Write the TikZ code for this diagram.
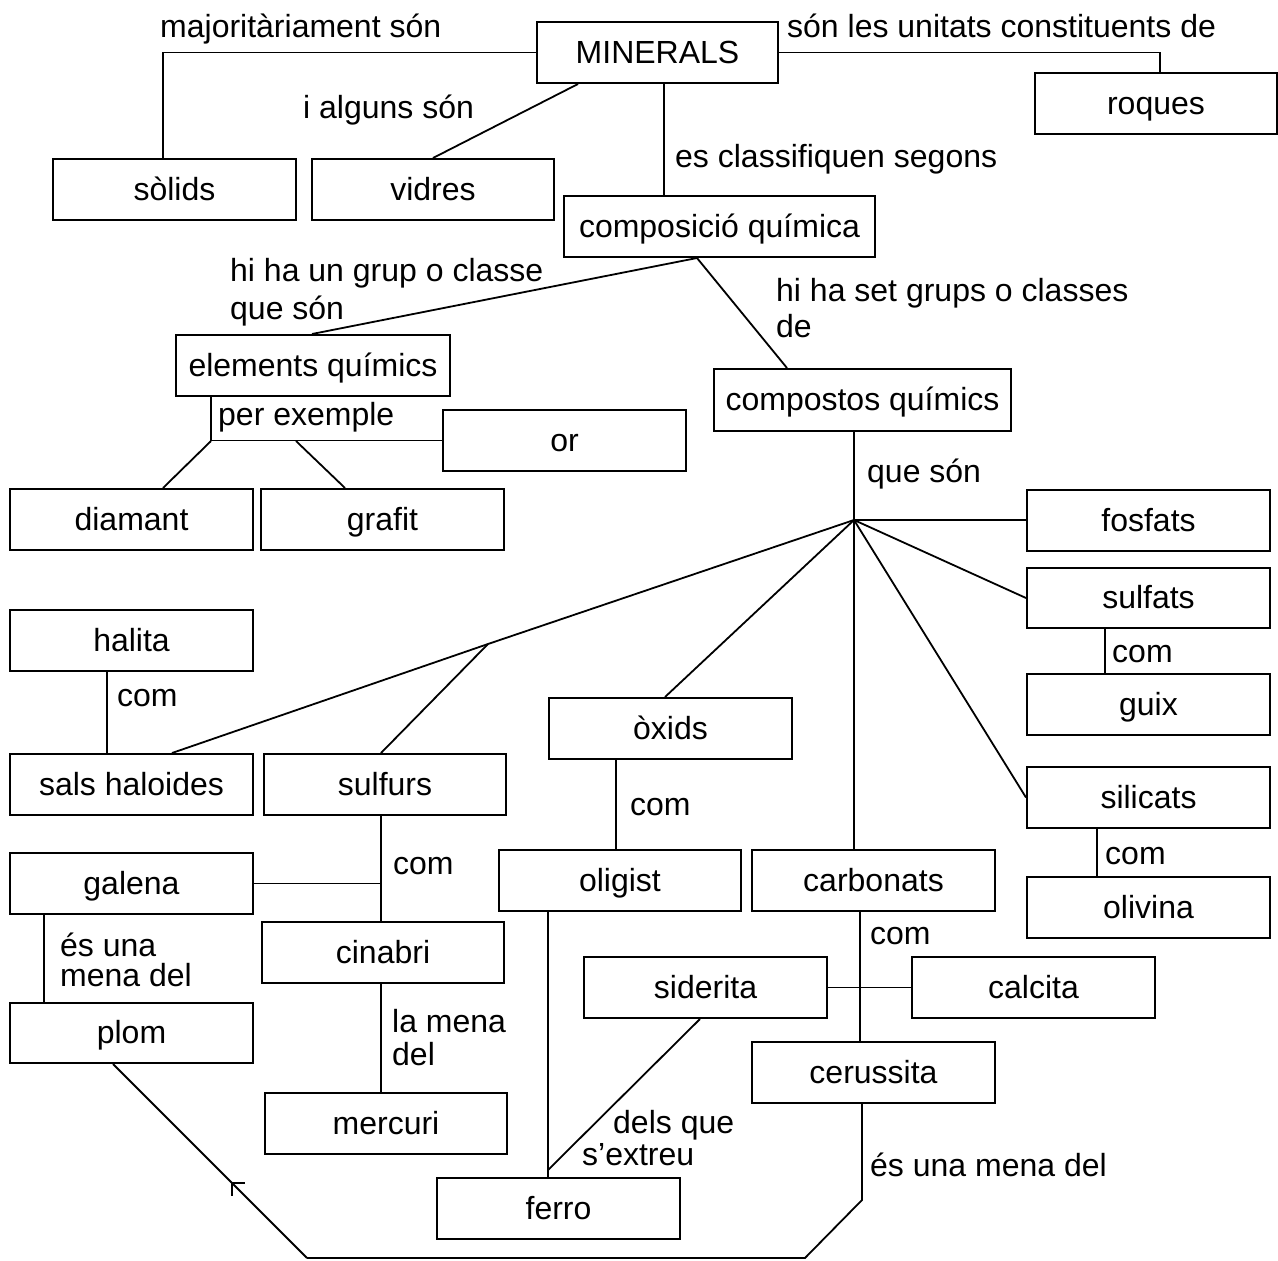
\documentclass[tikz,border=0pt]{standalone}
\usepackage{fontspec}
\setmainfont{Liberation Sans}
\usetikzlibrary{arrows.meta,decorations.markings,calc}
\begin{document}
\begin{tikzpicture}[x=1pt,y=-1pt,
  box/.style={draw, line width=2pt, minimum width=243pt, minimum height=61pt, inner sep=0pt,
    text height=25pt, text depth=4pt, font=\fontsize{32}{38}\selectfont},
  lbl/.style={inner sep=0pt, anchor=base west, font=\fontsize{32}{38}\selectfont},
  conn/.style={line width=1.8pt}]
\useasboundingbox[fill=white] (0,0) rectangle (1278,1261);

% boxes
\node[box, minimum width=241pt] (minerals) at (657.5,52.5) {MINERALS};
\node[box, minimum width=242pt] (roques) at (1156,103.5) {roques};
\node[box] (solids) at (174.5,189.5) {sòlids};
\node[box, minimum width=242pt] (vidres) at (433,189.5) {vidres};
\node[box, minimum width=311pt] (comp) at (719.5,226.5) {composició química};
\node[box, minimum width=274pt] (elements) at (313,365.5) {elements químics};
\node[box] (or) at (564.5,440.5) {or};
\node[box] (diamant) at (131.5,519.5) {diamant};
\node[box] (grafit) at (382.5,519.5) {grafit};
\node[box, minimum width=297pt, minimum height=62pt] (compostos) at (862.5,400) {compostos químics};
\node[box] (fosfats) at (1148.5,520.5) {fosfats};
\node[box, minimum height=60pt] (sulfats) at (1148.5,598) {sulfats};
\node[box] (guix) at (1148.5,704.5) {guix};
\node[box] (silicats) at (1148.5,797.5) {silicats};
\node[box] (olivina) at (1148.5,907.5) {olivina};
\node[box] (halita) at (131.5,640.5) {halita};
\node[box] (sals) at (131.5,784.5) {sals haloides};
\node[box, minimum width=242pt] (sulfurs) at (385,784.5) {sulfurs};
\node[box] (oxids) at (670.5,728.5) {òxids};
\node[box, minimum width=242pt] (oligist) at (620,880.5) {oligist};
\node[box] (carbonats) at (873.5,880.5) {carbonats};
\node[box] (galena) at (131.5,883.5) {galena};
\node[box, minimum width=242pt] (cinabri) at (383,952.5) {cinabri};
\node[box] (siderita) at (705.5,987.5) {siderita};
\node[box] (calcita) at (1033.5,987.5) {calcita};
\node[box, minimum height=60pt] (plom) at (131.5,1033) {plom};
\node[box] (cerussita) at (873.5,1072.5) {cerussita};
\node[box, minimum width=242pt] (mercuri) at (386,1123.5) {mercuri};
\node[box] (ferro) at (558.5,1208.5) {ferro};

% junctions
\coordinate (cb) at ([xshift=-22.5pt]comp.south);
\coordinate (pe) at (211,441);
\coordinate (pg) at (296,441);
\coordinate (hub) at (854,520);
\coordinate (jn) at (488,644);
\coordinate (sx) at ([xshift=-4pt]sulfurs.south);
\coordinate (b1) at (862,1200);
\coordinate (b2) at (805,1258);
\coordinate (b3) at (307,1258);

% connectors
\draw[conn] (minerals.west) -| ([xshift=-11.5pt]solids.north);
\draw[conn] (minerals.east) -| ([xshift=4pt]roques.north);
\draw[conn] ([xshift=-79.5pt]minerals.south) -- (vidres.north);
\draw[conn] ([xshift=6.5pt]minerals.south) -- ([xshift=6.5pt]minerals.south |- comp.north);
\draw[conn] (cb) -- ([xshift=-1pt]elements.north);
\draw[conn] (cb) -- ([xshift=-75.5pt]compostos.north);
\draw[conn] ([xshift=-102pt]elements.south) |- (or.west);
\draw[conn] (pe) -- ([xshift=31.5pt]diamant.north);
\draw[conn] (pg) -- ([xshift=-37.5pt]grafit.north);
\draw[conn] ([xshift=-8.5pt]compostos.south) -- (hub);
\draw[conn] (hub) -- (hub -| fosfats.west);
\draw[conn] (hub) -- (sulfats.west);
\draw[conn] (hub) -- (silicats.west);
\draw[conn] (hub) -- (hub |- carbonats.north);
\draw[conn] (hub) -- ([xshift=-5.5pt]oxids.north);
\draw[conn] (hub) -- (jn);
\draw[conn] (jn) -- ([xshift=40.5pt]sals.north);
\draw[conn] (jn) -- ([xshift=-4pt]sulfurs.north);
\draw[conn] ([xshift=-24.5pt]halita.south) -- ([xshift=-24.5pt]sals.north);
\draw[conn] ([xshift=-43.5pt]sulfats.south) -- ([xshift=-43.5pt]guix.north);
\draw[conn] ([xshift=-51.5pt]silicats.south) -- ([xshift=-51.5pt]olivina.north);
\draw[conn] ([xshift=-54.5pt]oxids.south) -- ([xshift=-54.5pt]oxids.south |- oligist.north);
\draw[conn] (sx) -- (sx |- cinabri.north);
\draw[conn] (galena.east) -- (galena.east -| sx);
\draw[conn] ([xshift=-87.5pt]galena.south) -- ([xshift=-87.5pt]plom.north);
\draw[conn] ([xshift=-2pt]cinabri.south) -- ([xshift=-2pt]cinabri.south |- mercuri.north);
\draw[conn] ([xshift=-72pt]oligist.south) -- ([xshift=-72pt]oligist.south |- ferro.north);
\draw[conn] ([xshift=-5.5pt]siderita.south) -- ([xshift=-10.5pt,yshift=7pt]ferro.north);
\draw[conn] ([xshift=-13.5pt]carbonats.south) -- ([xshift=-13.5pt]cerussita.north);
\draw[conn] (siderita.east) -- (calcita.west);
\draw[conn] ([xshift=-11.5pt]cerussita.south) -- (b1) -- (b2) -- (b3);
\draw[conn, postaction={decorate}, decoration={markings, mark=at position 0.39 with {\arrow[line width=1.8pt]{Straight Barb[length=9pt,width=18pt]}}}] (b3) -- ([xshift=-18.5pt]plom.south);

% labels
\node[lbl] (t1) at (160,37) {majoritàriament són};
\node[lbl] (t2) at (787,37) {són les unitats constituents de};
\node[lbl] (t3) at (303,118) {i alguns són};
\node[lbl] (t4) at (675,167) {es classifiquen segons};
\node[lbl] (t5a) at (230,281) {hi ha un grup o classe};
\node[lbl] (t5b) at (230,319) {que són};
\node[lbl] (t6a) at (776,301) {hi ha set grups o classes};
\node[lbl] (t6b) at (776,337) {de};
\node[lbl] (t7) at (218,425) {per exemple};
\node[lbl] (t8) at (867,482) {que són};
\node[lbl] (t9) at (117,706) {com};
\node[lbl] (t10) at (1112,662) {com};
\node[lbl] (t11) at (1105,864) {com};
\node[lbl] (t12) at (630,815) {com};
\node[lbl] (t13) at (393,874) {com};
\node[lbl] (t14a) at (60,956) {és una};
\node[lbl] (t14b) at (60,986) {mena del};
\node[lbl] (t15a) at (392,1032) {la mena};
\node[lbl] (t15b) at (392,1065) {del};
\node[lbl] (t16) at (870,944) {com};
\node[lbl] (t17a) at (613,1133) {dels que};
\node[lbl] (t17b) at (582,1165) {s’extreu};
\node[lbl] (t18) at (870,1176) {és una mena del};
\end{tikzpicture}
\end{document}
